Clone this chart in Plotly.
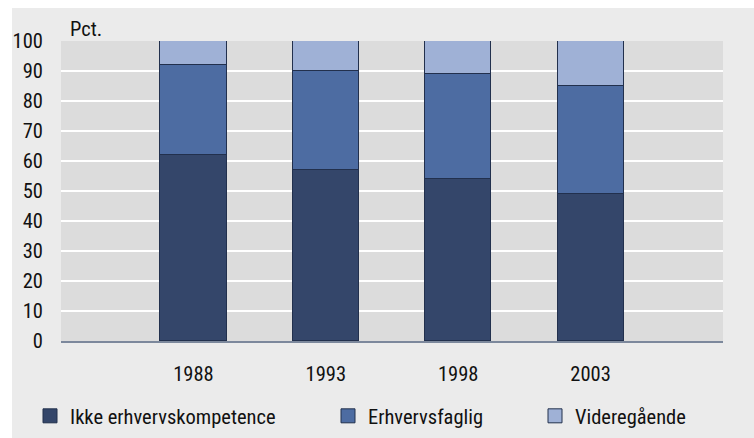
import plotly.graph_objects as go

# Educational attainment shares, per cent
years = ["1988", "1993", "1998", "2003"]
ikke_erhvervskompetence = [62, 57, 54, 49]
erhvervsfaglig = [30, 33, 35, 36]
videregaaende = [8, 10, 11, 15]
y_ticks = list(range(0, 101, 10))

series = [
    ("Ikke erhvervskompetence", ikke_erhvervskompetence, "#34466a", "legend"),
    ("Erhvervsfaglig", erhvervsfaglig, "#4d6ca2", "legend2"),
    ("Videregående", videregaaende, "#9fb1d6", "legend3"),
]

FONT = "Roboto Condensed, Liberation Sans Narrow, Roboto, sans-serif"
FS = 20.5
TXT = "#111111"
EDGE = "#22304d"

x_pos = list(range(1, len(years) + 1))

fig = go.Figure()
for name, vals, color, leg in series:
    fig.add_trace(go.Bar(
        x=x_pos, y=vals, name=name, width=0.5,
        marker=dict(color=color, line=dict(color=EDGE, width=1)),
        legendgroup=name, showlegend=False,
    ))
    # legend entry with a slightly larger square swatch
    fig.add_trace(go.Scatter(
        x=[None], y=[None], mode="markers", name=name,
        marker=dict(symbol="square", size=14, color=color,
                    line=dict(color=EDGE, width=1)),
        legendgroup=name, legend=leg, showlegend=True,
    ))

W, H = 754, 438
L, R, T, B = 61, 31, 41, 97
pw, ph = W - L - R, H - T - B


def px_x(px):
    return (px - L) / pw


def px_y(py):
    return (H - B - py) / ph


leg_common = dict(
    orientation="h", yanchor="middle", xanchor="left",
    xref="container", yref="container",
    y=1 - 416 / H, bgcolor="rgba(0,0,0,0)", borderwidth=0,
    font=dict(family=FONT, size=FS, color=TXT), itemsizing="trace",
)

fig.update_layout(
    width=W, height=H,
    margin=dict(l=L, r=R, t=T, b=B, autoexpand=False),
    paper_bgcolor="white",
    plot_bgcolor="rgba(0,0,0,0)",
    barmode="stack",
    bargap=0,
    font=dict(family=FONT, size=FS, color=TXT),
    showlegend=True,
    legend=dict(x=30 / W, **leg_common),
    legend2=dict(x=328 / W, **leg_common),
    legend3=dict(x=535 / W, **leg_common),
    xaxis=dict(
        range=[0, 5], tickmode="array", tickvals=x_pos, ticktext=years,
        showgrid=False, zeroline=False,
        showline=True, linecolor="#7c889c", linewidth=2,
        ticks="outside", ticklen=13, tickcolor="rgba(0,0,0,0)",
        tickfont=dict(family=FONT, size=FS, color=TXT),
        fixedrange=True,
    ),
    yaxis=dict(
        range=[0, 100], tickmode="array", tickvals=y_ticks,
        showgrid=True, gridcolor="white", gridwidth=2,
        zeroline=False, showline=False,
        ticks="outside", ticklen=13, tickcolor="rgba(0,0,0,0)",
        tickfont=dict(family=FONT, size=FS, color=TXT),
        fixedrange=True,
    ),
    shapes=[
        # outer light panel
        dict(type="rect", xref="paper", yref="paper", layer="below",
             x0=px_x(12), x1=px_x(W), y0=px_y(H), y1=px_y(8),
             fillcolor="#ebebeb", line=dict(width=0)),
        # plotting area
        dict(type="rect", xref="paper", yref="paper", layer="below",
             x0=0, x1=1, y0=0, y1=1,
             fillcolor="#dcdcdc", line=dict(width=0)),
    ],
    annotations=[
        dict(text="Pct.", xref="paper", yref="paper",
             x=px_x(68), y=px_y(29), xanchor="left", yanchor="middle",
             showarrow=False, font=dict(family=FONT, size=FS, color=TXT)),
    ],
)

fig.write_html("out.html")
